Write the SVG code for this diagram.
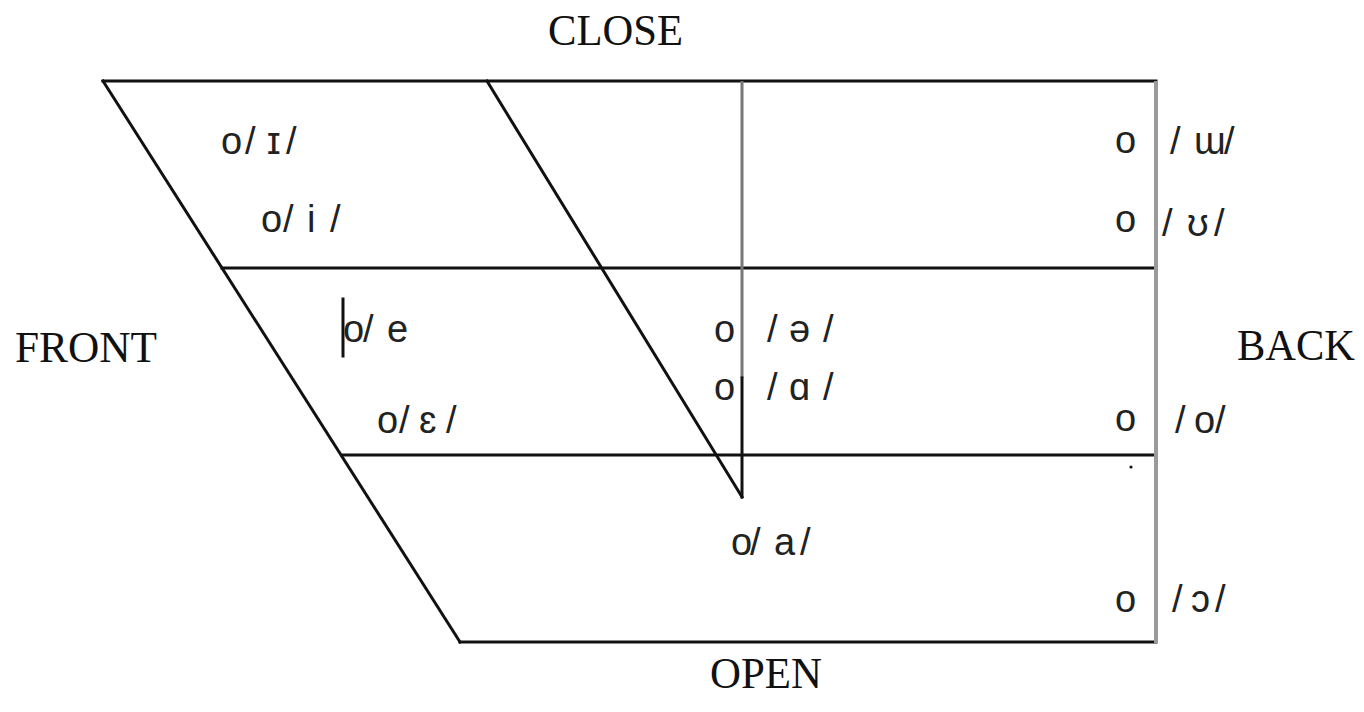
<svg xmlns="http://www.w3.org/2000/svg" width="1364" height="712" viewBox="0 0 1364 712">
<style>
.ln{stroke:#111;stroke-width:3;fill:none;stroke-linecap:square}
.lg{stroke:#9a9a9a;stroke-width:4;fill:none}
.lm{stroke:#777;stroke-width:3;fill:none}
.h{font-family:"Liberation Serif","Times New Roman",serif;font-size:44px;fill:#111}
.v{font-family:"Liberation Sans","DejaVu Sans",sans-serif;font-size:38px;fill:#222}
</style>
<rect width="1364" height="712" fill="#fff"/>
<g id="frame">
<line class="ln" x1="103" y1="81" x2="1156" y2="81"/>
<line class="ln" x1="222" y1="268" x2="1156" y2="268"/>
<line class="ln" x1="342" y1="455" x2="1154" y2="455"/>
<line class="ln" x1="460" y1="642" x2="1156" y2="642"/>
<line class="ln" x1="103" y1="81" x2="460" y2="642"/>
<line class="ln" x1="487" y1="81" x2="742" y2="497"/>
<line class="lg" x1="1156" y1="81" x2="1156" y2="643"/>
<line class="lm" x1="742" y1="81" x2="742" y2="378"/>
<line class="ln" x1="742" y1="378" x2="742" y2="497"/>
<line class="ln" x1="343" y1="299" x2="343" y2="356"/>
<circle cx="1131" cy="467" r="1.6" fill="#111"/>
</g>
<g id="headings">
<text class="h" x="548" y="45" textLength="135" lengthAdjust="spacingAndGlyphs">CLOSE</text>
<text class="h" x="15" y="362" textLength="142" lengthAdjust="spacingAndGlyphs">FRONT</text>
<text class="h" x="1237" y="360" textLength="118" lengthAdjust="spacingAndGlyphs">BACK</text>
<text class="h" x="710" y="688" textLength="112" lengthAdjust="spacingAndGlyphs">OPEN</text>
</g>
<g id="vowel-I"><text class="v" x="221 245 267 286" y="154">o/ɪ/</text></g>
<g id="vowel-i"><text class="v" x="261 283 307 330" y="232">o/i/</text></g>
<g id="vowel-e"><text class="v" x="343 363 387" y="342">o/e</text></g>
<g id="vowel-epsilon"><text class="v" x="377 399 419 446" y="433">o/ɛ/</text></g>
<g id="vowel-schwa"><text class="v" x="714" y="342">o</text><text class="v" x="767 789 823" y="342">/ə/</text></g>
<g id="vowel-alpha"><text class="v" x="714" y="400">o</text><text class="v" x="767 789 823" y="400">/ɑ/</text></g>
<g id="vowel-a"><text class="v" x="731 750 774 800" y="555">o/a/</text></g>
<g id="vowel-turned-m"><text class="v" x="1115" y="153">o</text><text class="v" x="1170 1194 1224" y="154">/ɯ/</text></g>
<g id="vowel-upsilon"><text class="v" x="1115" y="232">o</text><text class="v" x="1162 1187 1214" y="236">/ʊ/</text></g>
<g id="vowel-o"><text class="v" x="1115" y="431">o</text><text class="v" x="1175 1194 1215" y="433">/o/</text></g>
<g id="vowel-open-o"><text class="v" x="1115" y="612">o</text><text class="v" x="1172 1191 1215" y="612">/ɔ/</text></g>
</svg>
